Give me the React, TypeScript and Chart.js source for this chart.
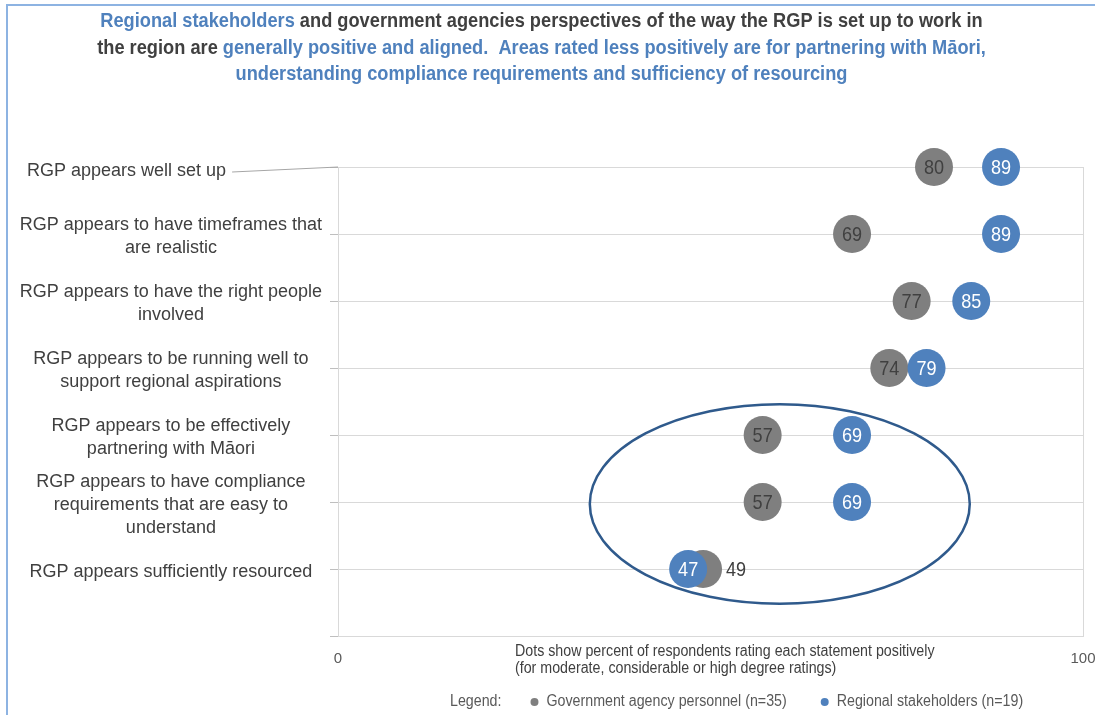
import React, { useEffect, useRef } from 'react';
import { Chart, registerables } from 'chart.js';

Chart.register(...registerables);

// ---- data ----
const categories: (string | string[])[] = [
  'RGP appears well set up',
  ['RGP appears to have timeframes that', 'are realistic'],
  ['RGP appears to have the right people', 'involved'],
  ['RGP appears to be running well to', 'support regional aspirations'],
  ['RGP appears to be effectively', 'partnering with Māori'],
  ['RGP appears to have compliance', 'requirements that are easy to', 'understand'],
  'RGP appears sufficiently resourced',
];
const governmentValues = [80, 69, 77, 74, 57, 57, 49];
const regionalValues = [89, 89, 85, 79, 69, 69, 47];
const xTickLabels = ['0', '100'];
const seriesNames = ['Government agency personnel (n=35)', 'Regional stakeholders (n=19)'];
const legendPrefix = 'Legend:';
const axisNote = [
  'Dots show percent of respondents rating each statement positively',
  '(for moderate, considerable or high degree ratings)',
];
// title segments: [text, isHighlight]
const titleLine1: [string, boolean][] = [
  ['Regional stakeholders', true],
  [' and government agencies perspectives of the way the RGP is set up to work in', false],
];
const titleLine2: [string, boolean][] = [
  ['the region are ', false],
  ['generally positive and aligned.  Areas rated less positively are for partnering with Māori,', true],
];
const titleLine3: [string, boolean][] = [
  ['understanding compliance requirements and sufficiency of resourcing', true],
];
// highlighted group (data coordinates: percent on x, row units on y)
const highlightEllipse = { xFrom: 33.8, xTo: 84.8, yFrom: 0.48, yTo: 3.46 };

// ---- styles ----
const BLUE = '#4f81bd';
const GRAY = '#7f7f7f';
const TEXT = '#404040';
const TEXT_LIGHT = '#595959';
const SANS = "'Liberation Sans', Arial, sans-serif";
const DOT_R = 19;
const Y_AXIS_WIDTH = 338;
const RIGHT_GAP = 12;

const rowY = (i: number) => categories.length - i;

function narrowWidth(ctx: CanvasRenderingContext2D, text: string, font: string, k: number) {
  ctx.save();
  ctx.font = font;
  const w = ctx.measureText(text).width * k;
  ctx.restore();
  return w;
}

// draws real text, horizontally condensed by factor k (emulating a narrow face)
function fillNarrow(
  ctx: CanvasRenderingContext2D,
  text: string,
  x: number,
  y: number,
  font: string,
  k: number,
  align: 'left' | 'center' | 'right' = 'left'
) {
  const w = narrowWidth(ctx, text, font, k);
  let sx = x;
  if (align === 'center') sx = x - w / 2;
  else if (align === 'right') sx = x - w;
  ctx.save();
  ctx.font = font;
  ctx.textAlign = 'left';
  ctx.translate(sx, y);
  ctx.scale(k, 1);
  ctx.fillText(text, 0, 0);
  ctx.restore();
  return w;
}

const decorPlugin = {
  id: 'decor',
  afterDatasetsDraw(chart: any) {
    const { ctx, scales } = chart;
    const x = scales.x;
    const y = scales.y;
    // ellipse
    const x1 = x.getPixelForValue(highlightEllipse.xFrom);
    const x2 = x.getPixelForValue(highlightEllipse.xTo);
    const y1 = y.getPixelForValue(highlightEllipse.yFrom);
    const y2 = y.getPixelForValue(highlightEllipse.yTo);
    ctx.save();
    ctx.beginPath();
    ctx.ellipse((x1 + x2) / 2, (y1 + y2) / 2, Math.abs(x2 - x1) / 2, Math.abs(y2 - y1) / 2, 0, 0, Math.PI * 2);
    ctx.strokeStyle = '#2f5a8c';
    ctx.lineWidth = 2.5;
    ctx.stroke();

    // data labels
    const metaBlue = chart.getDatasetMeta(0);
    const metaGray = chart.getDatasetMeta(1);
    const f = `21px ${SANS}`;
    const k = 0.86;
    ctx.textBaseline = 'middle';
    for (let i = 0; i < categories.length; i++) {
      const pb = metaBlue.data[i];
      const pg = metaGray.data[i];
      const overlap = Math.abs(pb.x - pg.x) < DOT_R;
      ctx.fillStyle = TEXT;
      if (overlap) fillNarrow(ctx, String(governmentValues[i]), pg.x + DOT_R + 4, pg.y + 1, f, k, 'left');
      else fillNarrow(ctx, String(governmentValues[i]), pg.x, pg.y + 1, f, k, 'center');
      ctx.fillStyle = '#ffffff';
      fillNarrow(ctx, String(regionalValues[i]), pb.x, pb.y + 1, f, k, 'center');
    }
    ctx.restore();
  },
  afterDraw(chart: any) {
    const { ctx, scales, chartArea, width, height } = chart;
    const y = scales.y;
    ctx.save();
    // frame
    ctx.strokeStyle = '#8db3e2';
    ctx.lineWidth = 2;
    ctx.beginPath();
    ctx.moveTo(7, height);
    ctx.lineTo(7, 5);
    ctx.lineTo(width, 5);
    ctx.stroke();

    // title
    const tf = `bold 19.5px ${SANS}`;
    const tk = 0.935;
    ctx.textBaseline = 'middle';
    const cxTitle = width / 2 - 6;
    [titleLine1, titleLine2, titleLine3].forEach((segs, li) => {
      const total = segs.reduce((s, [t]) => s + narrowWidth(ctx, t, tf, tk), 0);
      let xx = cxTitle - total / 2;
      const yy = 22 + li * 26.5;
      segs.forEach(([t, hi]) => {
        ctx.fillStyle = hi ? BLUE : TEXT;
        xx += fillNarrow(ctx, t, xx, yy, tf, tk, 'left');
      });
    });

    // top category label with leader line
    const topY = y.getPixelForValue(rowY(0));
    ctx.font = `18px ${SANS}`;
    ctx.fillStyle = TEXT;
    ctx.textAlign = 'left';
    const lbl = categories[0] as string;
    const lx = 27;
    ctx.fillText(lbl, lx, topY + 4);
    const lw = ctx.measureText(lbl).width;
    ctx.strokeStyle = '#a6a6a6';
    ctx.lineWidth = 1;
    ctx.beginPath();
    ctx.moveTo(lx + lw + 6, topY + 5);
    ctx.lineTo(chartArea.left, topY);
    ctx.stroke();

    // axis note
    const nf = `16px ${SANS}`;
    const nk = 0.89;
    ctx.fillStyle = TEXT;
    axisNote.forEach((t, i) => fillNarrow(ctx, t, chartArea.left + 177, chartArea.bottom + 16 + i * 17, nf, nk, 'left'));

    // legend
    const lf = `16px ${SANS}`;
    ctx.fillStyle = TEXT_LIGHT;
    const ly = height - 13;
    let xx = 450;
    xx += fillNarrow(ctx, legendPrefix, xx, ly, lf, nk, 'left') + 33;
    [GRAY, BLUE].forEach((c, i) => {
      ctx.fillStyle = c;
      ctx.beginPath();
      ctx.arc(xx, ly, 4, 0, Math.PI * 2);
      ctx.fill();
      xx += 12;
      ctx.fillStyle = TEXT_LIGHT;
      xx += fillNarrow(ctx, seriesNames[i], xx, ly, lf, nk, 'left') + 38;
    });
    ctx.restore();
  },
};

export default function App() {
  const ref = useRef<HTMLCanvasElement>(null);
  useEffect(() => {
    const canvas = ref.current!;
    const chart = new Chart(canvas, {
      type: 'scatter',
      data: {
        datasets: [
          {
            label: seriesNames[1],
            data: regionalValues.map((v, i) => ({ x: v, y: rowY(i) })),
            backgroundColor: BLUE,
            borderWidth: 0,
            pointRadius: DOT_R,
            pointHoverRadius: DOT_R,
            order: 0,
            clip: false as any,
          },
          {
            label: seriesNames[0],
            data: governmentValues.map((v, i) => ({ x: v, y: rowY(i) })),
            backgroundColor: GRAY,
            borderWidth: 0,
            pointRadius: DOT_R,
            pointHoverRadius: DOT_R,
            order: 1,
            clip: false as any,
          },
        ],
      },
      options: {
        responsive: false,
        animation: false,
        events: [],
        layout: { autoPadding: false, padding: { top: 167, left: 0, right: 0, bottom: 0 } },
        plugins: {
          legend: { display: false },
          tooltip: { enabled: false },
          title: { display: false },
        },
        scales: {
          x: {
            type: 'linear',
            min: 0,
            max: 100,
            ticks: {
              stepSize: 100,
              padding: 14,
              autoSkip: false,
              maxRotation: 0,
              color: TEXT_LIGHT,
              font: { family: SANS, size: 15 },
              callback: (_v: any, idx: number) => xTickLabels[idx],
            },
            grid: { color: '#d9d9d9', drawTicks: false },
            border: { color: '#d9d9d9' },
            afterFit: (s: any) => {
              s.height = 79;
              s.paddingRight = RIGHT_GAP;
              s.paddingLeft = 0;
            },
          },
          y: {
            type: 'linear',
            min: 0,
            max: categories.length,
            ticks: {
              stepSize: 1,
              padding: 8,
              labelOffset: 3,
              autoSkip: false,
              crossAlign: 'center',
              color: TEXT,
              font: { family: SANS, size: 18, lineHeight: 1.28 },
              callback: (v: any) => {
                const i = categories.length - Number(v);
                if (i >= 1 && i < categories.length) return categories[i];
                return '';
              },
            },
            grid: { color: '#d9d9d9', tickLength: 8, tickColor: '#bfbfbf' },
            border: { color: '#d9d9d9' },
            afterFit: (s: any) => {
              s.width = Y_AXIS_WIDTH;
              s.paddingTop = 0;
              s.paddingBottom = 0;
            },
          },
        },
      },
      plugins: [decorPlugin],
    });
    return () => chart.destroy();
  }, []);
  return (
    <canvas
      ref={ref}
      width={1095}
      height={715}
      style={{ position: 'fixed', left: 0, top: 0, width: 1095, height: 715, background: '#fff' }}
    />
  );
}
